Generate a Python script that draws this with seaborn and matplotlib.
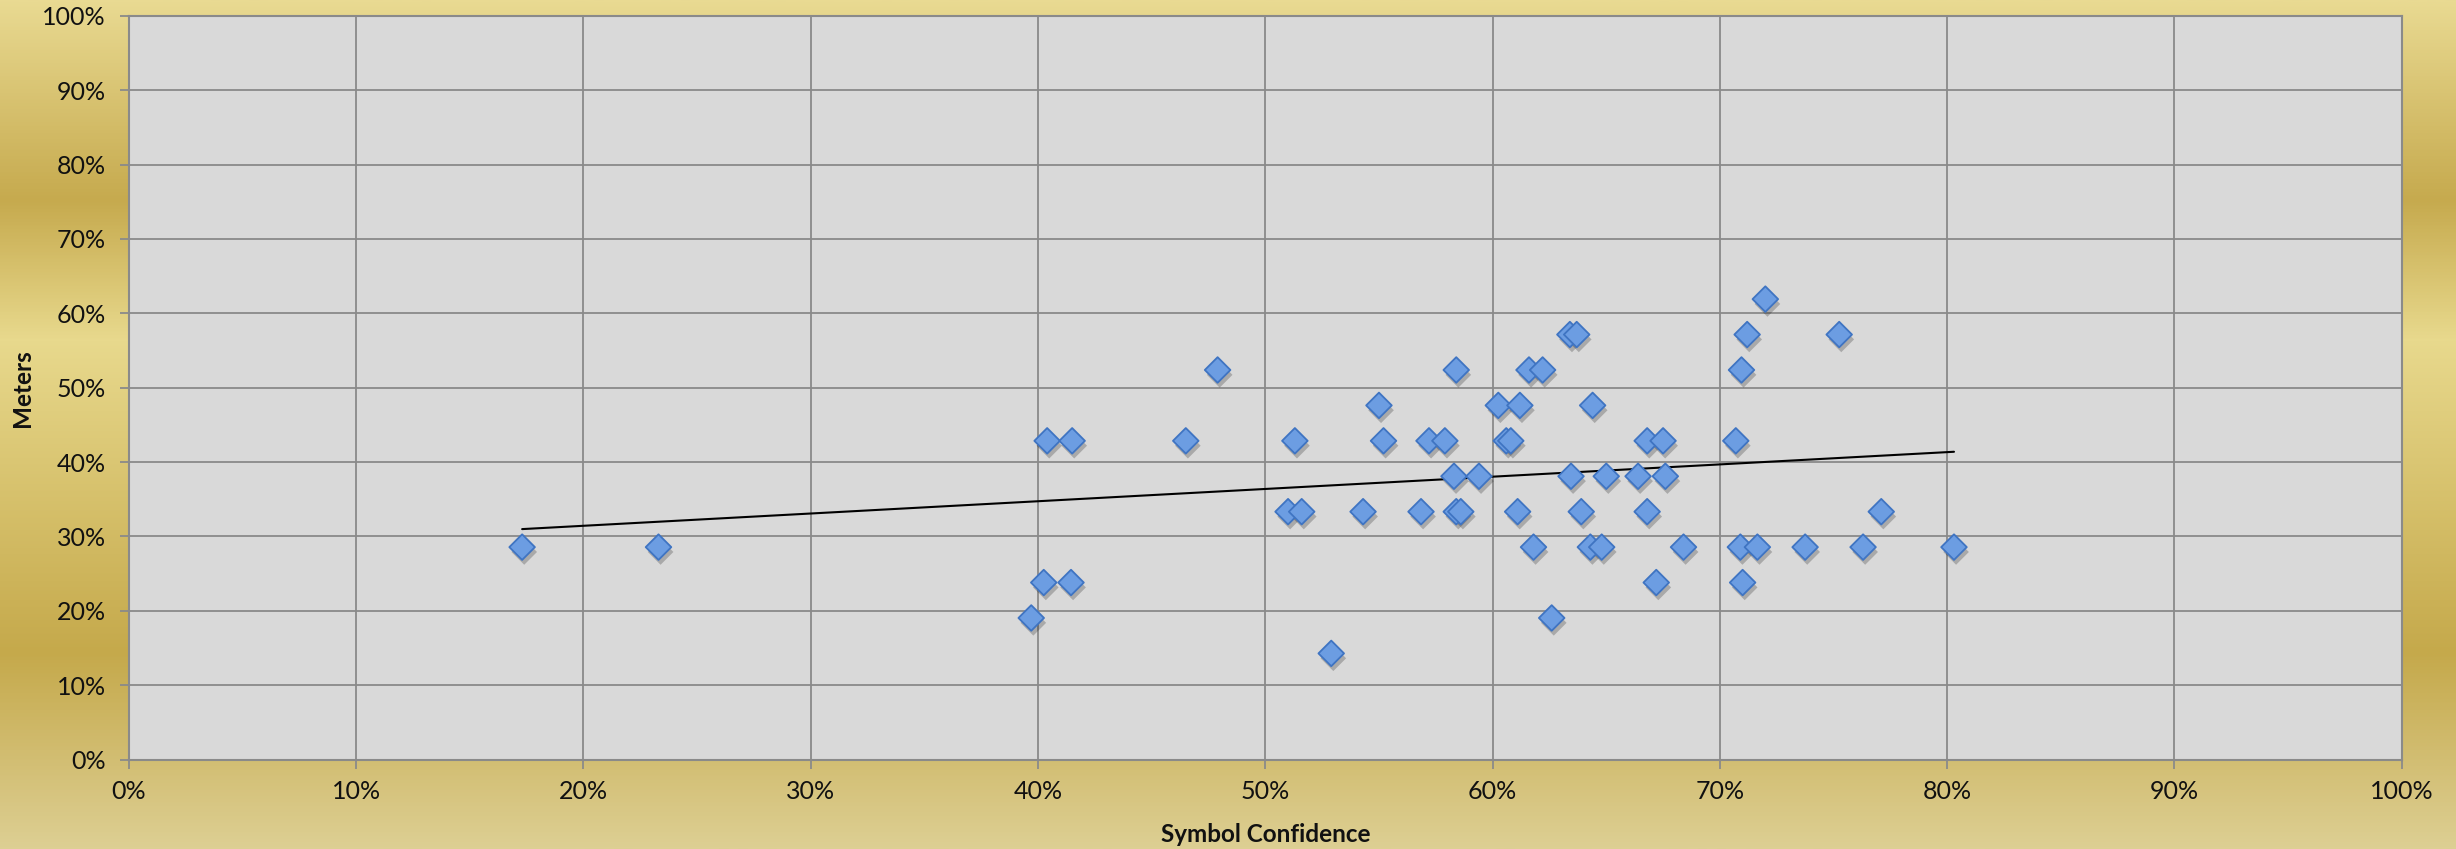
import numpy as np
import pandas as pd
import matplotlib
matplotlib.use("Agg")
import matplotlib.pyplot as plt
import matplotlib.patheffects as pe
from matplotlib.colors import LinearSegmentedColormap
from matplotlib.ticker import PercentFormatter, MultipleLocator
import seaborn as sns

# ---- data (fractions) ----
confidence = [
    # 28.6 %
    0.173, 0.233, 0.618, 0.643, 0.648, 0.684, 0.709, 0.7165, 0.7375, 0.763, 0.803,
    # 23.8 %
    0.4025, 0.4145, 0.672, 0.710,
    # 19.0 %
    0.397, 0.626,
    # 14.3 %
    0.529,
    # 33.3 %
    0.510, 0.516, 0.543, 0.5685, 0.584, 0.586, 0.611, 0.639, 0.668, 0.771,
    # 38.1 %
    0.583, 0.594, 0.6345, 0.650, 0.664, 0.676,
    # 42.9 %
    0.404, 0.415, 0.465, 0.513, 0.552, 0.572, 0.579, 0.606, 0.608, 0.668, 0.675, 0.707,
    # 47.6 %
    0.550, 0.6025, 0.612, 0.644,
    # 52.4 %
    0.479, 0.584, 0.616, 0.622, 0.7095,
    # 57.1 %
    0.634, 0.637, 0.712, 0.7525,
    # 61.9 %
    0.720,
]
meters = (
    [6 / 21] * 11 + [5 / 21] * 4 + [4 / 21] * 2 + [3 / 21] * 1 + [7 / 21] * 10
    + [8 / 21] * 6 + [9 / 21] * 12 + [10 / 21] * 4 + [11 / 21] * 5
    + [12 / 21] * 4 + [13 / 21] * 1
)
x_label = "Symbol Confidence"
y_label = "Meters"

df = pd.DataFrame({"conf": confidence, "meters": meters})

# ---- style ----
sns.set_theme(style="whitegrid")
plt.rcParams["font.family"] = ["Lato", "DejaVu Sans"]

W, H, DPI = 2456, 849, 100
fig = plt.figure(figsize=(W / DPI, H / DPI), dpi=DPI)

# gold gradient background
bg = fig.add_axes([0, 0, 1, 1], zorder=-10)
gold = LinearSegmentedColormap.from_list(
    "gold",
    [(0.0, "#e9da92"), (0.235, "#c6aa4e"), (0.40, "#e8d98d"),
     (0.77, "#c5a94b"), (1.0, "#ddcf93")],
)
grad = np.linspace(0, 1, 512).reshape(-1, 1)
bg.imshow(grad, cmap=gold, aspect="auto", extent=[0, 1, 0, 1], origin="upper")
bg.set_axis_off()

ax = fig.add_axes([0.0525, 0.1052, 0.9254, 0.8763])
ax.set_facecolor("#d9d9d9")

grid_c = "#8a8a8a"
sns.scatterplot(
    data=df, x="conf", y="meters", ax=ax, marker="D", s=170,
    color="#6c9de2", edgecolor="#3f74c2", linewidth=1.3, zorder=3, legend=False,
)
for coll in ax.collections:
    coll.set_path_effects([
        pe.SimplePatchShadow(offset=(1.5, -3.5), shadow_rgbFace="#000000", alpha=0.22),
        pe.Normal(),
    ])

# linear trend line
slope, intercept = np.polyfit(df["conf"], df["meters"], 1)
xs = np.array([df["conf"].min(), df["conf"].max()])
ax.plot(xs, slope * xs + intercept, color="black", linewidth=1.5, zorder=2)

ax.set_xlim(0, 1)
ax.set_ylim(0, 1)
ax.xaxis.set_major_locator(MultipleLocator(0.1))
ax.yaxis.set_major_locator(MultipleLocator(0.1))
ax.xaxis.set_major_formatter(PercentFormatter(1.0, decimals=0))
ax.yaxis.set_major_formatter(PercentFormatter(1.0, decimals=0))
ax.grid(True, color=grid_c, linewidth=1.3)
ax.set_axisbelow(True)
for sp in ax.spines.values():
    sp.set_color(grid_c)
    sp.set_linewidth(1.5)
ax.tick_params(axis="both", which="major", direction="out", length=6.5,
               width=1.3, color=grid_c, labelsize=18, labelcolor="#111111",
               left=True, bottom=True)
ax.tick_params(axis="x", pad=8)
ax.tick_params(axis="y", pad=10)

ax.set_xlabel(x_label, fontsize=17.5, fontweight="bold", color="#111111", va="center")
ax.set_ylabel(y_label, fontsize=17.5, fontweight="bold", color="#111111", va="center")
ax.xaxis.set_label_coords(0.5, -0.100)
ax.yaxis.set_label_coords(-0.047, 0.5)

fig.savefig("out.png", dpi=DPI)
